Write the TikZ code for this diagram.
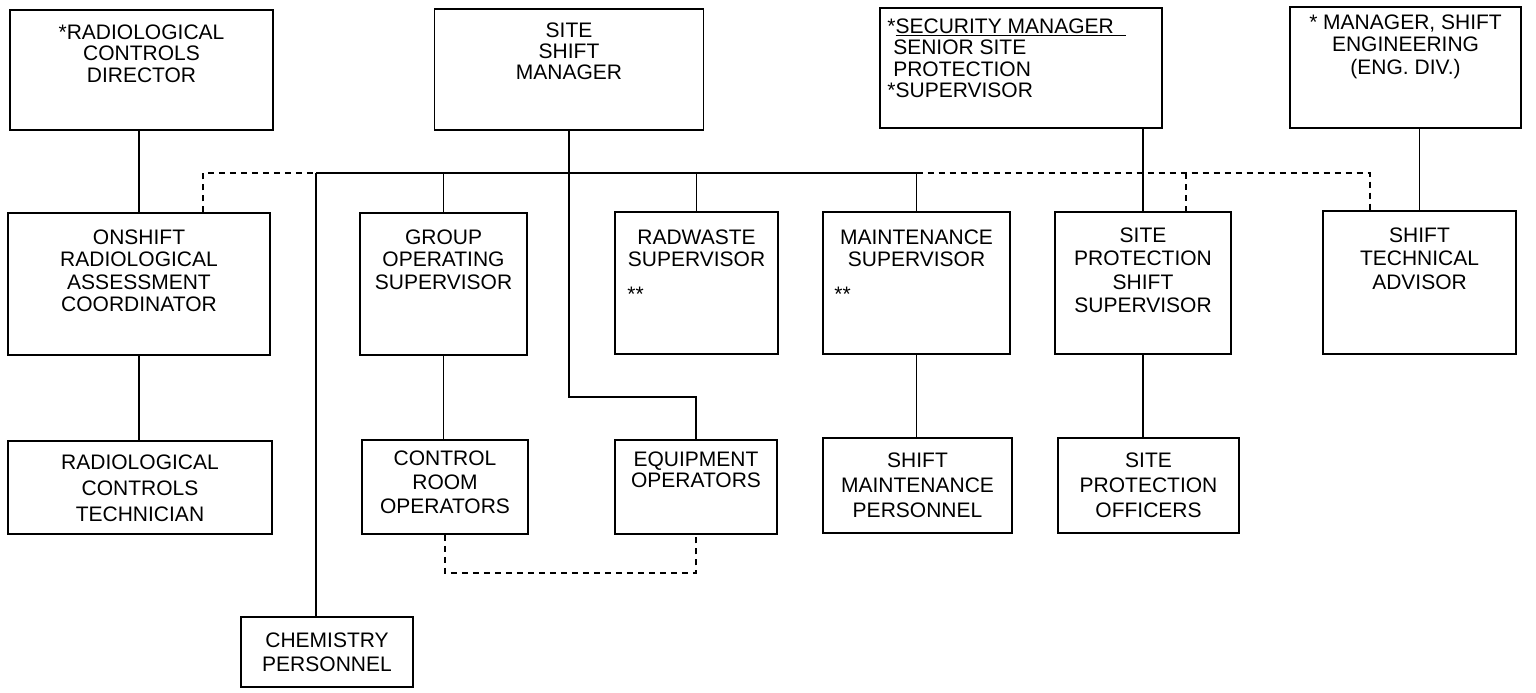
\documentclass[tikz,border=0pt]{standalone}
\usepackage{fontspec}
\setmainfont{Liberation Sans}
\usetikzlibrary{positioning}
\tikzset{org box/.style={draw,rectangle,inner sep=0pt,line width=1.5pt},
	org text/.style={inner sep=0pt,align=center,font=\fontsize{21}{#1}\selectfont},
	org text/.default=23,
	link/.style={line width=1.9pt},
	dashed link/.style={line width=1.5pt,dash pattern=on 6pt off 5pt},
}

\begin{document}
\begin{tikzpicture}[x=1pt,y=-1pt]
	\useasboundingbox (0,0) rectangle (1536,693);
	% top row
	\node[org box,minimum width=263pt,minimum height=120pt] (rcd) at (141.5,70) {};
	\node[org box,minimum width=269pt,minimum height=121pt] (ssm) at (569,69.5) {};
	\node[org box,minimum width=282pt,minimum height=120pt] (sec) at (1021,68) {};
	\node[org box,minimum width=231pt,minimum height=121pt] (mse) at (1405.5,67.5) {};
	\node[org text=21.5,below=15pt of rcd.north] (rcd t) {*RADIOLOGICAL\\CONTROLS\\DIRECTOR};
	\node[org text=21,below=14pt of ssm.north] (ssm t) {SITE\\SHIFT\\MANAGER};
	\node[org text=21.5,align=left,below right=11pt and 8pt of sec.north west] (sec t)
		{*\underline{SECURITY MANAGER\hspace{0.6em}}\\\ SENIOR SITE\\\ PROTECTION\\*SUPERVISOR};
	\node[org text=22.5,below=8pt of mse.north] (mse t) {* MANAGER, SHIFT\\ENGINEERING\\(ENG. DIV.)};
	
	% middle row
	\node[org box,minimum width=262pt,minimum height=142pt] (onshift) at (139,284) {};
	\node[org box,minimum width=167pt,minimum height=142pt] (gos) at (443.5,284) {};
	\node[org box,minimum width=163pt,minimum height=142pt] (radwaste) at (696.5,283) {};
	\node[org box,minimum width=187pt,minimum height=142pt] (maint) at (916.5,283) {};
	\node[org box,minimum width=176pt,minimum height=142pt] (spss) at (1143,283) {};
	\node[org box,minimum width=193pt,minimum height=143pt] (sta) at (1419.5,282.5) {};
	\node[org text=22.5,below=17pt of onshift.north] (onshift t) {ONSHIFT\\RADIOLOGICAL\\ASSESSMENT\\COORDINATOR};
	\node[org text=22.5,below=17pt of gos.north] (gos t) {GROUP\\OPERATING\\SUPERVISOR};
	\node[org text=22,below=18pt of radwaste.north] (radwaste t) {RADWASTE\\SUPERVISOR};
	\node[org text,below right=76pt and 13pt of radwaste.north west] (radwaste m) {**};
	\node[org text=22,below=18pt of maint.north] (maint t) {MAINTENANCE\\SUPERVISOR};
	\node[org text,below right=76pt and 12pt of maint.north west] (maint m) {**};
	\node[org text=23.5,below=16pt of spss.north] (spss t) {SITE\\PROTECTION\\SHIFT\\SUPERVISOR};
	\node[org text=23.5,below=17pt of sta.north] (sta t) {SHIFT\\TECHNICAL\\ADVISOR};
	
	% bottom row
	\node[org box,minimum width=264pt,minimum height=93pt] (rct) at (140,487.5) {};
	\node[org box,minimum width=166pt,minimum height=94pt] (cro) at (445,487) {};
	\node[org box,minimum width=162pt,minimum height=94pt] (equip) at (696,487) {};
	\node[org box,minimum width=189pt,minimum height=95pt] (smp) at (917.5,485.5) {};
	\node[org box,minimum width=181pt,minimum height=95pt] (spo) at (1148.5,485.5) {};
	\node[org box,minimum width=172pt,minimum height=70pt] (chem) at (327,652) {};
	\node[org text=26,below=14pt of rct.north] (rct t) {RADIOLOGICAL\\CONTROLS\\TECHNICIAN};
	\node[org text=24,below=11pt of cro.north] (cro t) {CONTROL\\ROOM\\OPERATORS};
	\node[org text=21,below=12pt of equip.north] (equip t) {EQUIPMENT\\OPERATORS};
	\node[org text=25,below=15pt of smp.north] (smp t) {SHIFT\\MAINTENANCE\\PERSONNEL};
	\node[org text=25,below=15pt of spo.north] (spo t) {SITE\\PROTECTION\\OFFICERS};
	\node[org text=24,below=16pt of chem.north] (chem t) {CHEMISTRY\\PERSONNEL};
	
	\coordinate (bus west) at (203,173);
	\coordinate (bus chem) at (316,173);
	\coordinate (bus sp) at (1186,173);
	\coordinate (bus east) at (1370,173);
	\coordinate (eq bend) at (696,397);
	\coordinate (ops loop) at (570,573);
	
	% solid lines
	\draw[link] (onshift.north) -- (onshift.north |- rcd.south);
	\draw[link] (onshift.south) -- (onshift.south |- rct.north);
	\draw[link] (ssm.south) |- (eq bend) -| (equip.north);
	\draw[link] (bus chem) -- (maint.north |- bus chem);
	\draw[link] (bus chem) -- (bus chem |- chem.north);
	\draw[link] (gos.north) -- (gos.north |- bus chem);
	\draw[link] (radwaste.north) -- (radwaste.north |- bus chem);
	\draw[link] (maint.north) -- (maint.north |- bus chem);
	\draw[link] (gos.south) -- (gos.south |- cro.north);
	\draw[link] (maint.south) -- (maint.south |- smp.north);
	\draw[link] (spss.north) -- (spss.north |- sec.south);
	\draw[link] (spss.south) -- (spss.south |- spo.north);
	\draw[link] (sta.north) -- (sta.north |- mse.south);
	% dashed lines
	\draw[dashed link] (onshift.north -| bus west) -- (bus west) -- (bus chem);
	\draw[dashed link] (maint.north |- bus east) -- (bus east) -- (bus east |- sta.north);
	\draw[dashed link] (bus sp) -- (bus sp |- spss.north);
	\draw[dashed link] (cro.south) |- (ops loop) -| (equip.south);
\end{tikzpicture}
\end{document}
